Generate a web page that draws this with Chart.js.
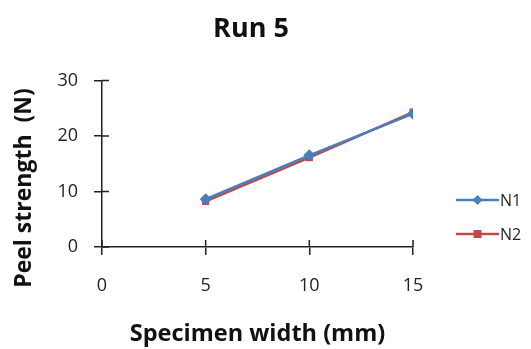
<!DOCTYPE html>
<html>
<head>
<meta charset="utf-8">
<script src="https://cdn.jsdelivr.net/npm/chart.js@4.4.1/dist/chart.umd.min.js"></script>
<style>
  html, body { margin: 0; padding: 0; background: #fff; }
  #wrap { width: 531px; height: 349px; }
</style>
</head>
<body>
<div id="wrap"><canvas id="peelChart"></canvas></div>
<script>
// ================= DATA =================
const widths = [5, 10, 15];
const n1Values = [8.6, 16.5, 24.0];
const n2Values = [8.2, 16.1, 24.3];
const xTicks = [0, 5, 10, 15];
const yTicks = [0, 10, 20, 30];
const seriesNames = ["N1", "N2"];
const yAxisTitle = "Peel strength  (N)";

const FONT = "'Open Sans', 'DejaVu Sans', sans-serif";
const AXIS_COLOR = "#222";

// ================= CROSSING TICK MARKS, Y TITLE, LEGEND =================
const excelStyle = {
  id: "excelStyle",
  afterDraw(chart) {
    const ctx = chart.ctx;
    const x = chart.scales.x;
    const y = chart.scales.y;
    const area = chart.chartArea;

    ctx.save();
    ctx.strokeStyle = AXIS_COLOR;
    ctx.lineWidth = 1.5;
    ctx.beginPath();
    // inner half of each tick
    yTicks.forEach((v) => {
      const py = y.getPixelForValue(v);
      ctx.moveTo(area.left, py);
      ctx.lineTo(area.left + 7, py);
    });
    xTicks.forEach((v) => {
      const px = x.getPixelForValue(v);
      ctx.moveTo(px, area.bottom);
      ctx.lineTo(px, area.bottom - 7);
    });
    ctx.stroke();

    // y axis title, centred a bit lower than the plot
    ctx.save();
    ctx.translate(24, 188);
    ctx.rotate(-Math.PI / 2);
    ctx.fillStyle = "#111";
    ctx.font = "bold 23px " + FONT;
    ctx.textAlign = "center";
    ctx.textBaseline = "middle";
    ctx.fillText(yAxisTitle, 0, 0);
    ctx.restore();

    // legend on the right
    chart.data.datasets.forEach((ds, i) => {
      const ly = 200 + i * 34;
      ctx.strokeStyle = ds.borderColor;
      ctx.lineWidth = 2.5;
      ctx.beginPath();
      ctx.moveTo(456, ly);
      ctx.lineTo(499, ly);
      ctx.stroke();
      ctx.fillStyle = ds.backgroundColor;
      ctx.beginPath();
      if (ds.pointStyle === "rectRot") {
        ctx.moveTo(477.5, ly - 5);
        ctx.lineTo(482.5, ly);
        ctx.lineTo(477.5, ly + 5);
        ctx.lineTo(472.5, ly);
      } else {
        ctx.rect(473.5, ly - 4, 8, 8);
      }
      ctx.fill();
      ctx.fillStyle = AXIS_COLOR;
      ctx.font = "16px " + FONT;
      ctx.textBaseline = "middle";
      ctx.fillText(ds.label, 500, ly + 1);
    });
    ctx.restore();
  },
};

// ================= CHART =================
new Chart(document.getElementById("peelChart"), {
  type: "line",
  data: {
    datasets: [
      {
        label: seriesNames[0],
        data: widths.map((w, i) => ({ x: w, y: n1Values[i] })),
        borderColor: "#4a7ebb",
        backgroundColor: "#4a7ebb",
        borderWidth: 2.5,
        pointStyle: "rectRot",
        pointRadius: 6,
        pointBorderWidth: 0,
      },
      {
        label: seriesNames[1],
        data: widths.map((w, i) => ({ x: w, y: n2Values[i] })),
        borderColor: "#be4b48",
        backgroundColor: "#be4b48",
        borderWidth: 2.5,
        pointStyle: "rect",
        pointRadius: 5,
        pointBorderWidth: 0,
      },
    ],
  },
  options: {
    responsive: true,
    maintainAspectRatio: false,
    animation: false,
    layout: { padding: { right: 29, top: 0, bottom: 0, left: 0 } },
    plugins: {
      legend: { display: false },
      tooltip: { enabled: false },
      title: {
        display: true,
        text: "Run 5",
        color: "#111",
        font: { family: FONT, size: 27, weight: "bold" },
        padding: { top: 13, bottom: 35 },
      },
    },
    scales: {
      x: {
        type: "linear",
        min: 0,
        max: 15,
        afterBuildTicks: (s) => { s.ticks = xTicks.map((v) => ({ value: v })); },
        afterFit: (s) => { s.height = 102; },
        border: { display: true, color: AXIS_COLOR, width: 1.5 },
        grid: { drawOnChartArea: false, drawTicks: true, tickLength: 8, color: AXIS_COLOR, lineWidth: 1.5 },
        ticks: { color: AXIS_COLOR, padding: 20, font: { family: FONT, size: 18 } },
        title: {
          display: true,
          text: "Specimen width (mm)",
          color: "#111",
          font: { family: FONT, size: 23.5, weight: "bold" },
          padding: { top: 0, bottom: 1 },
        },
      },
      y: {
        min: 0,
        max: 30,
        afterBuildTicks: (s) => { s.ticks = yTicks.map((v) => ({ value: v })); },
        afterFit: (s) => { s.width = 102; },
        border: { display: true, color: AXIS_COLOR, width: 1.5 },
        grid: { drawOnChartArea: false, drawTicks: true, tickLength: 8, color: AXIS_COLOR, lineWidth: 1.5 },
        ticks: { color: AXIS_COLOR, padding: 16, font: { family: FONT, size: 18 } },
      },
      // empty right-hand axis that keeps room for the legend
      legendSpace: {
        position: "right",
        display: true,
        afterFit: (s) => { s.width = 89; },
        border: { display: false },
        grid: { display: false },
        ticks: { display: false },
      },
    },
  },
  plugins: [excelStyle],
});
</script>
</body>
</html>
